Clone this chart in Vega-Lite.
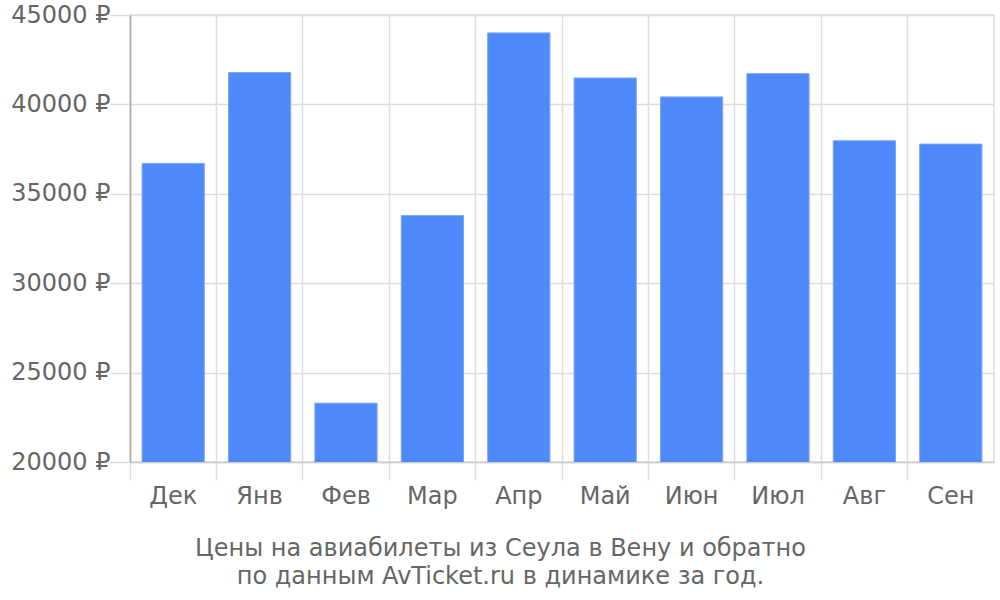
{
  "$schema": "https://vega.github.io/schema/vega-lite/v6.json",
  "width": 1000,
  "height": 600,
  "autosize": {"type": "fit", "contains": "padding"},
  "padding": {"left": 10, "top": 3, "right": 6, "bottom": 12},
  "background": "white",
  "config": {
    "font": "DejaVu Sans",
    "view": {"stroke": "#dddddd", "strokeWidth": 1.5},
    "axis": {"labelColor": "#666666", "titleColor": "#666666", "labelFont": "DejaVu Sans", "titleFont": "DejaVu Sans"}
  },
  "data": {
    "values": [
      {"month": "Дек", "price": 36700},
      {"month": "Янв", "price": 41780},
      {"month": "Фев", "price": 23290},
      {"month": "Мар", "price": 33780},
      {"month": "Апр", "price": 44000},
      {"month": "Май", "price": 41480},
      {"month": "Июн", "price": 40420},
      {"month": "Июл", "price": 41720},
      {"month": "Авг", "price": 37970},
      {"month": "Сен", "price": 37780}
    ]
  },
  "mark": {"type": "bar", "color": "#4d89f9", "stroke": "#7aa6fb", "strokeWidth": 1, "clip": true, "width": {"band": 0.72}},
  "encoding": {
    "x": {
      "field": "month",
      "type": "nominal",
      "sort": null,
      "scale": {"paddingInner": 0, "paddingOuter": 0},
      "axis": {
        "title": ["Цены на авиабилеты из Сеула в Вену и обратно", "по данным AvTicket.ru в динамике за год."],
        "titleFontSize": 24,
        "titleFontWeight": "normal",
        "titleLineHeight": 28,
        "titlePadding": 28,
        "titleX": 370,
        "titleAnchor": "middle",
        "labelFontSize": 24,
        "labelAngle": 0,
        "labelPadding": 4,
        "bandPosition": 0,
        "grid": true,
        "gridColor": "#dddddd",
        "gridWidth": 1.5,
        "tickColor": "#dddddd",
        "tickWidth": 1.5,
        "tickSize": 18,
        "domainColor": "#cccccc",
        "domainWidth": 1.5
      }
    },
    "y": {
      "field": "price",
      "type": "quantitative",
      "scale": {"domain": [20000, 45000], "zero": false, "nice": false},
      "axis": {
        "title": null,
        "values": [20000, 25000, 30000, 35000, 40000, 45000],
        "labelExpr": "datum.value + ' ₽'",
        "labelFontSize": 24,
        "labelPadding": 0,
        "grid": true,
        "gridColor": "#dddddd",
        "gridWidth": 1.5,
        "tickColor": "#dddddd",
        "tickWidth": 1.5,
        "tickSize": 20,
        "domainColor": "#aaaaaa",
        "domainWidth": 1.5
      }
    }
  }
}
